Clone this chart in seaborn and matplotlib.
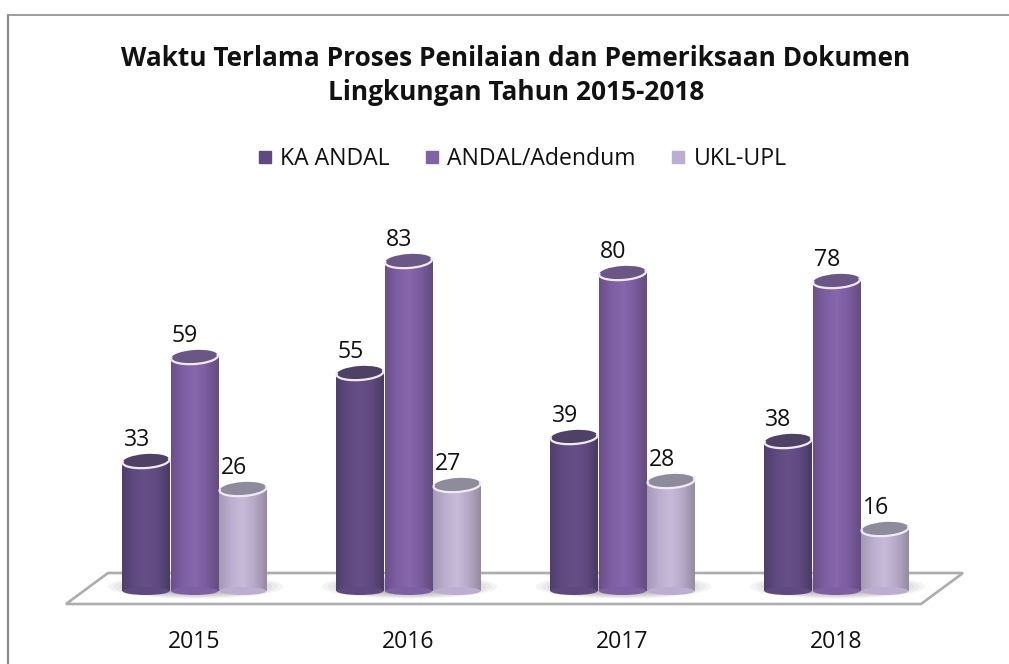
import numpy as np
import pandas as pd
import matplotlib
matplotlib.use("Agg")
import matplotlib.pyplot as plt
from matplotlib.colors import LinearSegmentedColormap
from matplotlib.patches import Arc, Ellipse, Polygon
from matplotlib.lines import Line2D
from matplotlib.transforms import IdentityTransform
import seaborn as sns

years = ["2015", "2016", "2017", "2018"]
ka_andal = [33, 55, 39, 38]
andal_adendum = [59, 83, 80, 78]
ukl_upl = [26, 27, 28, 16]
series_names = ["KA ANDAL", "ANDAL/Adendum", "UKL-UPL"]
series_colors = ["#5f4a80", "#8064a2", "#bcaed0"]
title_text = "Waktu Terlama Proses Penilaian dan Pemeriksaan Dokumen\nLingkungan Tahun 2015-2018"

W, H = 1009, 664

# shading across each cylinder: dark edge, light middle, dark edge
shades = {
    "KA ANDAL": ["#503e6c", "#5f4a80", "#674f88", "#5f4a80", "#4a3a63"],
    "ANDAL/Adendum": ["#6a5088", "#7d5fa3", "#8867ad", "#7a5c9e", "#644c80"],
    "UKL-UPL": ["#a59bb2", "#bcaed0", "#c8bbd8", "#b5a8c6", "#958ca0"],
}
lid_colors = {"KA ANDAL": "#4f4166", "ANDAL/Adendum": "#6a5785", "UKL-UPL": "#8e8c9c"}

df = pd.DataFrame({
    "year": years * 3,
    "series": [series_names[0]] * 4 + [series_names[1]] * 4 + [series_names[2]] * 4,
    "value": ka_andal + andal_adendum + ukl_upl,
})

sns.set_theme(style="white")
plt.rcParams["font.family"] = ["Open Sans", "DejaVu Sans"]

fig = plt.figure(figsize=(W / 100, H / 100), dpi=100)
# axes placed so 0 sits at y=593 and one unit is about 4 px
ax = fig.add_axes([87.5 / W, 1 - 593 / H, 856 / W, (593 - 130) / H])
sns.barplot(data=df, x="year", y="value", hue="series", hue_order=series_names,
            palette=series_colors, width=0.68, gap=0, legend=False, ax=ax, saturation=1)
sns.despine(ax=ax, left=True, bottom=True)
ax.set_xlabel("")
ax.set_ylabel("")
ax.set_yticks([])
ax.set_xticks(range(4))
ax.set_xticklabels(years, fontsize=16.6, color="#111111")
ax.tick_params(axis="x", length=0, pad=27)
ax.patch.set_alpha(0)
ax.set_xlim(-0.5, 3.5)
ax.set_ylim(0, (593 - 130) / 4)


def px(x, y):
    return (x / W, 1 - y / H)


# floor plate
floor = Polygon([px(66, 604), px(108, 573), px(963, 573), px(921, 604)], closed=True,
                transform=fig.transFigure, facecolor="white", edgecolor="#adadad", lw=1.9, zorder=0)
ax.add_patch(floor)
floor.set_clip_on(False)

# soft shadow under each group, built from stacked faint ellipses
for g in range(len(years)):
    for scale in np.linspace(0.55, 1.0, 8):
        sh = Ellipse((g + 0.005, 1.6), 0.82 * scale, 6.0 * scale, facecolor="#6e6e6e", alpha=0.07,
                     edgecolor="none", zorder=1)
        ax.add_patch(sh)
        sh.set_clip_on(False)

ident = IdentityTransform()
for name, container in zip(series_names, ax.containers):
    for bar in container:
        x0, w, h = bar.get_x(), bar.get_width(), bar.get_height()
        inner = w * 0.97
        xc = x0 + w / 2
        bar.set_alpha(0)
        # cylinder body
        cmap = LinearSegmentedColormap.from_list(name, shades[name])
        grad = np.linspace(0, 1, 64).reshape(1, -1)
        ax.imshow(grad, cmap=cmap, aspect="auto", zorder=2,
                  extent=(xc - inner / 2, xc + inner / 2, 0.5, h))
        bottom = Ellipse((xc, 0.5), inner, 2.0, facecolor=shades[name][1], edgecolor="none", zorder=2)
        ax.add_patch(bottom)
        bottom.set_clip_on(False)
        # tilted lid, drawn in screen pixels so the tilt is not stretched
        cx, cy = ax.transData.transform((xc, h))
        wpx = ax.transData.transform((xc + inner / 2, 0))[0] - ax.transData.transform((xc - inner / 2, 0))[0]
        lid = Ellipse((cx, cy), wpx, 14, angle=4, transform=ident, facecolor=lid_colors[name],
                      edgecolor="none", zorder=3)
        ax.add_patch(lid)
        rim = Arc((cx, cy), wpx, 14, angle=4, theta1=175, theta2=365, transform=ident,
                  edgecolor="#efeaf5", lw=1.6, zorder=3.5)
        ax.add_patch(rim)
        ax.text(xc - 0.044, h + 5.3, str(int(h)), ha="center", va="center", fontsize=16.6,
                color="#111111", zorder=4)

ax.set_xlim(-0.5, 3.5)
ax.set_ylim(0, (593 - 130) / 4)

fig.text(516 / W, 1 - 75.5 / H, title_text, ha="center", va="center", fontsize=18.95,
         fontweight="bold", color="#111111", linespacing=1.36)

# legend row
handles = [Line2D([], [], marker="s", ls="", color=c, markersize=9) for c in series_colors]
fig.legend(handles, series_names, loc="center", bbox_to_anchor=(520 / W, 1 - 159 / H), ncol=3,
           frameon=False, fontsize=16.6, handlelength=1, handletextpad=0.15, columnspacing=1.35,
           labelcolor="#111111")

# outer frame: top and left lines only
fig.add_artist(Line2D([8 / W, 8 / W], [0, 1 - 15 / H], color="#8c8c8c", lw=1.6))
fig.add_artist(Line2D([8 / W, 1009 / W], [1 - 15 / H, 1 - 15 / H], color="#8c8c8c", lw=1.2))

fig.savefig("out.png", dpi=100, facecolor="white")
